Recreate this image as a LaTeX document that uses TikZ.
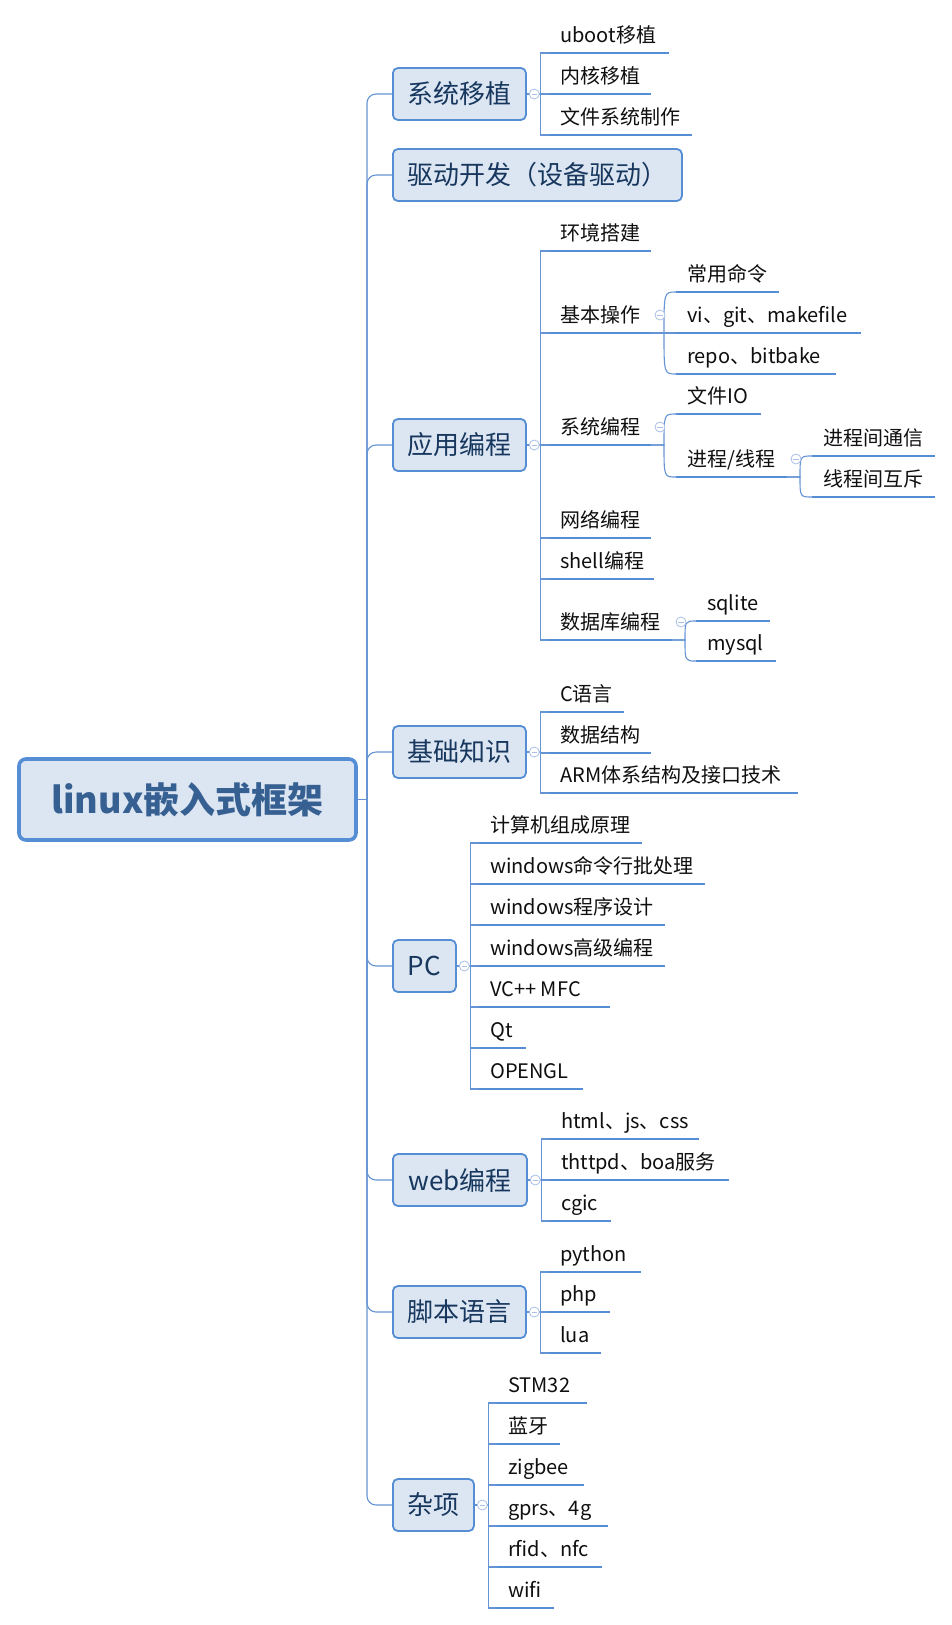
\documentclass[tikz,border=0pt]{standalone}
\usepackage{fontspec}
\setmainfont{Noto Sans CJK SC}
\usetikzlibrary{calc}
\definecolor{ubl}{RGB}{85,142,213}
\definecolor{cbl}{RGB}{100,148,212}
\definecolor{boxfill}{RGB}{220,230,242}
\definecolor{topictext}{RGB}{23,55,94}
\definecolor{roottext}{RGB}{55,96,146}
\definecolor{tgl}{RGB}{170,192,230}
\definecolor{leafcol}{RGB}{15,15,15}
\newcommand\rootfont{\fontsize{36}{40}\selectfont\bfseries}
\newcommand\topicfont{\fontsize{26}{30}\selectfont}
\newcommand\leaffont{\fontsize{20}{24}\selectfont}
\tikzset{
  rootbox/.style={draw=ubl, line width=3.6pt, fill=boxfill, rounded corners=7pt,
    minimum width=337pt, minimum height=81pt, text=roottext, font=\rootfont, inner sep=0pt},
  topic/.style={draw=ubl, line width=1.8pt, fill=boxfill, rounded corners=5pt,
    minimum height=52pt, inner xsep=0pt, anchor=west, font=\topicfont, text=topictext},
  leaftext/.style={anchor=base west, inner sep=0pt, font=\leaffont, text=leafcol},
  uline/.style={line width=2.8pt, draw=ubl},
  conn/.style={line width=1.1pt, draw=cbl},
  toggle/.style={circle, draw=tgl, fill=white, minimum size=10pt, inner sep=0pt, line width=0.8pt,
    path picture={\draw[tgl, line width=0.8pt] ([xshift=-2.6pt]path picture bounding box.center) -- ([xshift=2.6pt]path picture bounding box.center);}}
}
% name, x0, x1, y, text
\newcommand\mmleaf[5]{%
  \coordinate (#1s) at (#2,#4);
  \coordinate (#1e) at (#3,#4);
  \draw[uline] (#1s) -- (#1e);
  \node[leaftext] (#1) at (#2+11,#4-11) {#5};
}
% topic, child
\newcommand\mmtop[2]{\draw[conn] (#1.east) -- ++(14,0) |- (#2s);}
% parent leaf, child leaf (curved)
\newcommand\mmsub[2]{\draw[conn] (#1e) -- (#1j) .. controls (#1j |- #2s) .. (#2s);}
\newcommand\mmjoint[1]{\coordinate (#1j) at ($(#1e)+(13,0)$);}
\newcommand\mmtog[1]{\node[toggle] at ($(#1e)+(9,-18)$) {};}
\begin{document}
\begin{tikzpicture}[x=1pt,y=-1pt]
\useasboundingbox (0,0) rectangle (952,1625);
\fill[white] (0,0) rectangle (952,1625);

% root
\node[rootbox] (root) at (187.5,799.5) {linux嵌入式框架};
\coordinate (tr) at (367,799.5);

% main topics
\node[topic, minimum width=133pt] (T1) at (392,94) {系统移植};
\node[topic, minimum width=289pt] (T2) at (392,175) {驱动开发（设备驱动）};
\node[topic, minimum width=133pt] (T3) at (392,445) {应用编程};
\node[topic, minimum width=133pt] (T4) at (392,752) {基础知识};
\node[topic, minimum width=63pt]  (T5) at (392,966) {PC};
\node[topic, minimum width=134pt] (T6) at (392,1180) {web编程};
\node[topic, minimum width=133pt] (T7) at (392,1312) {脚本语言};
\node[topic, minimum width=81pt]  (T8) at (392,1505) {杂项};

% trunk
\draw[conn] (root.east) -- (tr);
\foreach \t in {T1,T2,T3,T4,T5,T6,T7,T8}{
  \draw[conn, rounded corners=9pt] (tr) |- (\t.west);
}

% 系统移植
\mmleaf{a1}{549}{669}{53}{uboot移植}
\mmleaf{a2}{549}{651}{94}{内核移植}
\mmleaf{a3}{549}{692}{135}{文件系统制作}
\foreach \c in {a1,a2,a3}{\mmtop{T1}{\c}}

% 应用编程
\mmleaf{b1}{549}{651}{251}{环境搭建}
\mmleaf{b2}{549}{651}{333}{基本操作}
\mmleaf{b21}{676}{779}{292}{常用命令}
\mmleaf{b22}{676}{861}{333}{vi、git、makefile}
\mmleaf{b23}{676}{836}{374}{repo、bitbake}
\mmleaf{b3}{549}{651}{445}{系统编程}
\mmleaf{b31}{676}{761}{414}{文件IO}
\mmleaf{b32}{676}{787}{477}{进程/线程}
\mmleaf{b321}{812}{935}{456}{进程间通信}
\mmleaf{b322}{812}{935}{497}{线程间互斥}
\mmleaf{b4}{549}{651}{538}{网络编程}
\mmleaf{b5}{549}{654}{579}{shell编程}
\mmleaf{b6}{549}{672}{640}{数据库编程}
\mmleaf{b61}{696}{770}{621}{sqlite}
\mmleaf{b62}{696}{776}{661}{mysql}
\foreach \c in {b1,b2,b3,b4,b5,b6}{\mmtop{T3}{\c}}
\mmjoint{b2}\mmjoint{b3}\mmjoint{b32}\mmjoint{b6}
\mmsub{b2}{b21}\mmsub{b2}{b22}\mmsub{b2}{b23}
\mmsub{b3}{b31}\mmsub{b3}{b32}
\mmsub{b32}{b321}\mmsub{b32}{b322}
\mmsub{b6}{b61}\mmsub{b6}{b62}

% 基础知识
\mmleaf{c1}{549}{624}{712}{C语言}
\mmleaf{c2}{549}{651}{753}{数据结构}
\mmleaf{c3}{549}{798}{793}{ARM体系结构及接口技术}
\foreach \c in {c1,c2,c3}{\mmtop{T4}{\c}}

% PC
\mmleaf{d1}{479}{642}{843}{计算机组成原理}
\mmleaf{d2}{479}{705}{884}{windows命令行批处理}
\mmleaf{d3}{479}{665}{925}{windows程序设计}
\mmleaf{d4}{479}{665}{966}{windows高级编程}
\mmleaf{d5}{479}{610}{1007}{VC++ MFC}
\mmleaf{d6}{479}{526}{1048}{Qt}
\mmleaf{d7}{479}{583}{1089}{OPENGL}
\foreach \c in {d1,d2,d3,d4,d5,d6,d7}{\mmtop{T5}{\c}}

% web编程
\mmleaf{e1}{550}{699}{1139}{html、js、css}
\mmleaf{e2}{550}{729}{1180}{thttpd、boa服务}
\mmleaf{e3}{550}{611}{1221}{cgic}
\foreach \c in {e1,e2,e3}{\mmtop{T6}{\c}}

% 脚本语言
\mmleaf{f1}{549}{641}{1272}{python}
\mmleaf{f2}{549}{610}{1312}{php}
\mmleaf{f3}{549}{601}{1353}{lua}
\foreach \c in {f1,f2,f3}{\mmtop{T7}{\c}}

% 杂项
\mmleaf{g1}{497}{587}{1403}{STM32}
\mmleaf{g2}{497}{560}{1444}{蓝牙}
\mmleaf{g3}{497}{584}{1485}{zigbee}
\mmleaf{g4}{497}{608}{1526}{gprs、4g}
\mmleaf{g5}{497}{602}{1567}{rfid、nfc}
\mmleaf{g6}{497}{554}{1608}{wifi}
\foreach \c in {g1,g2,g3,g4,g5,g6}{\mmtop{T8}{\c}}

% collapse toggles
\foreach \t in {T1,T3,T4,T5,T6,T7,T8}{
  \node[toggle] at ($(\t.east)+(7.5,0)$) {};
}
\mmtog{b2}\mmtog{b3}\mmtog{b32}\mmtog{b6}
\end{tikzpicture}
\end{document}
